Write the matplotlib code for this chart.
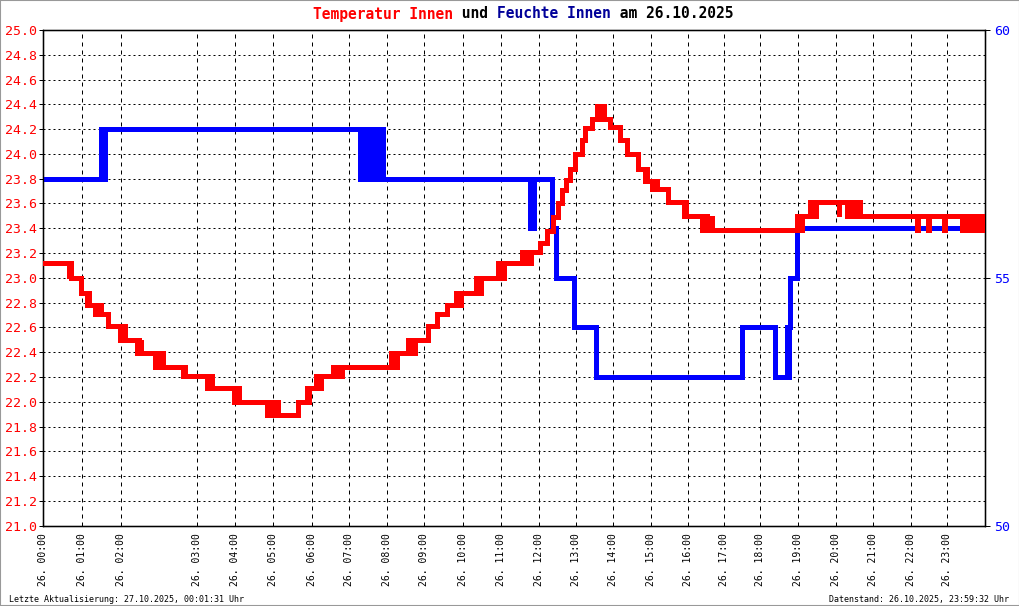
import matplotlib
matplotlib.use("Agg")
import matplotlib.pyplot as plt
import numpy as np
from matplotlib.patches import Rectangle

plt.rcParams['font.family'] = ['DejaVu Sans Mono']

# ---------------- data (hours since 26.10.2025 00:00, as plotted) ----------------
temp_hours = [
    0.0, 0.664, 0.690, 0.717, 0.996, 1.147, 1.174, 1.200, 1.367, 1.394,
    1.434, 1.474, 1.514, 1.713, 2.031, 2.058, 2.084, 2.124, 2.164, 2.483,
    2.509, 2.549, 2.576, 2.602, 2.961, 2.987, 3.014, 3.054, 3.093, 3.133,
    3.160, 3.704, 3.731, 3.757, 4.334, 4.360, 4.395, 4.421, 4.461, 5.058,
    5.085, 5.125, 5.151, 5.191, 5.927, 5.961, 5.988, 6.014, 6.086, 6.121,
    6.160, 6.200, 6.240, 6.766, 6.989, 7.015, 7.050, 7.236, 7.276, 7.302,
    7.342, 7.369, 7.687, 7.714, 7.740, 7.820, 7.847, 7.886, 7.926, 9.227,
    9.254, 9.294, 9.334, 9.374, 9.679, 9.719, 9.758, 9.785, 9.865, 10.210,
    10.457, 10.707, 10.953, 10.980, 11.020, 11.060, 11.086, 11.485, 11.511, 11.551,
    11.577, 11.604, 12.077, 12.108, 12.148, 12.188, 12.228, 12.698, 12.732, 12.772,
    12.812, 12.852, 12.892, 12.932, 13.182, 13.377, 13.529, 13.669, 13.760, 13.874,
    13.981, 14.113, 14.291, 14.379, 14.557, 14.690, 14.724, 14.764, 14.804, 14.844,
    14.870, 15.043, 15.308, 15.502, 15.794, 15.972, 15.999, 16.025, 16.158, 16.184,
    16.224, 16.251, 16.282, 16.590, 17.007, 17.034, 17.060, 17.477, 17.504, 17.538,
    17.565, 17.626, 17.745, 17.757, 20.001, 20.027, 20.062, 20.088, 20.128, 20.353,
    20.393, 20.433, 20.473, 20.513, 21.120, 21.132, 21.340, 21.360, 21.476, 21.502,
    21.548, 21.587, 21.627, 21.654, 21.694, 23.200, 23.212, 23.490, 23.502, 23.920,
    23.932, 24.381, 24.416, 24.443, 24.496, 24.522, 24.575, 24.602, 24.655, 24.695,
    24.735, 24.775, 24.814, 24.854, 24.894, 24.934, 24.974, 25.0,
]
temp_values = [
    23.12, 23.0, 23.12, 23.0, 22.88, 22.78, 22.88, 22.78, 22.71, 22.78,
    22.71, 22.78, 22.71, 22.61, 22.5, 22.61, 22.5, 22.61, 22.5, 22.39,
    22.5, 22.39, 22.5, 22.39, 22.28, 22.39, 22.28, 22.39, 22.28, 22.39,
    22.28, 22.21, 22.28, 22.21, 22.11, 22.21, 22.11, 22.21, 22.11, 22.0,
    22.11, 22.0, 22.11, 22.0, 21.89, 22.0, 21.89, 22.0, 21.89, 22.0,
    21.89, 22.0, 21.89, 22.0, 22.11, 22.0, 22.11, 22.21, 22.11, 22.21,
    22.11, 22.21, 22.28, 22.21, 22.28, 22.21, 22.28, 22.21, 22.28, 22.39,
    22.28, 22.39, 22.28, 22.39, 22.5, 22.39, 22.5, 22.39, 22.5, 22.61,
    22.71, 22.78, 22.88, 22.78, 22.88, 22.78, 22.88, 23.0, 22.88, 23.0,
    22.88, 23.0, 23.12, 23.0, 23.12, 23.0, 23.12, 23.21, 23.12, 23.21,
    23.12, 23.21, 23.12, 23.21, 23.28, 23.38, 23.49, 23.6, 23.71, 23.79,
    23.88, 24.0, 24.11, 24.21, 24.28, 24.39, 24.28, 24.39, 24.28, 24.39,
    24.28, 24.22, 24.11, 24.0, 23.88, 23.78, 23.88, 23.78, 23.72, 23.78,
    23.72, 23.78, 23.72, 23.61, 23.5, 23.61, 23.5, 23.39, 23.5, 23.39,
    23.5, 23.39, 23.5, 23.39, 23.5, 23.39, 23.5, 23.39, 23.5, 23.61,
    23.5, 23.61, 23.5, 23.61, 23.5, 23.61, 23.5, 23.61, 23.5, 23.61,
    23.5, 23.61, 23.5, 23.61, 23.5, 23.39, 23.5, 23.39, 23.5, 23.39,
    23.5, 23.39, 23.5, 23.39, 23.5, 23.39, 23.5, 23.39, 23.5, 23.39,
    23.5, 23.39, 23.5, 23.39, 23.5, 23.39, 23.5, 23.39,
]

hum_hours = [
    0.0, 1.527, 1.553, 1.580, 1.606, 1.633,
    8.404, 8.431, 8.457, 8.492, 8.537, 8.577, 8.617, 8.657, 8.697, 8.736,
    8.776, 8.816, 8.856, 8.896, 8.936, 8.976, 9.015,
    12.905, 12.945, 12.985, 13.024, 13.494, 13.609, 14.095, 14.671,
    18.540, 19.424, 19.734, 19.761, 19.787, 19.822, 20.0, 25.0,
]
hum_values = [
    57, 58, 57, 58, 57, 58,
    57, 58, 57, 58, 57, 58, 57, 58, 57, 58,
    57, 58, 57, 58, 57, 58, 57,
    56, 57, 56, 57, 56, 55, 54, 53,
    54, 53, 54, 53, 54, 55, 56, 56,
]

tick_hours = [0.0, 1.014, 2.050, 4.068, 5.085, 6.086, 7.122, 8.120, 9.113, 10.111,
              11.131, 12.148, 13.157, 14.132, 15.130, 16.123, 17.106, 18.062, 19.033,
              20.042, 21.035, 22.034, 23.027, 24.0]
tick_labels = ["26. %02d:00" % h for h in range(24)]

temp_ticks = [round(21.0 + 0.2 * i, 1) for i in range(21)]
hum_ticks = [50, 55, 60]

assert len(temp_hours) == len(temp_values)
assert len(hum_hours) == len(hum_values)

# ---------------- figure ----------------
W, H = 1020, 606
fig = plt.figure(figsize=(W / 100, H / 100), dpi=100)
x0, x1, ytop, ybot = 43.5, 985.0, 30.0, 525.7
ax = fig.add_axes([x0 / W, 1 - ybot / H, (x1 - x0) / W, (ybot - ytop) / H])
ax2 = ax.twinx()
ax.set_zorder(2)
ax.patch.set_visible(False)
ax2.set_zorder(1)

ax.set_xlim(0, 25)
ax.set_ylim(21.0, 25.0)
ax2.set_ylim(50, 60)

px = 0.72  # one pixel in points
ax.set_axisbelow(True)
ax.grid(True, axis='y', color='black', linewidth=px, linestyle=(0, (2, 3)))
ax.grid(True, axis='x', color='black', linewidth=px, linestyle=(0, (4, 4)))

lw = 2.2
# humidity drawn in ax with humidity transform so it lies under the red line
ax.plot(hum_hours, hum_values, drawstyle='steps-post', color='#0000ff',
        lw=lw, antialiased=False, transform=ax2.transData, zorder=2,
        solid_joinstyle='miter')
ax.plot(temp_hours, temp_values, drawstyle='steps-post', color='#ff0000',
        lw=lw, antialiased=False, zorder=3, solid_joinstyle='miter')

for a in (ax, ax2):
    for s in a.spines.values():
        s.set_color('black')
        s.set_linewidth(px * 1.3)

ax.set_yticks(temp_ticks)
ax.set_yticklabels(["%.1f" % v for v in temp_ticks])
ax.tick_params(axis='y', direction='out', length=4 * px, width=px,
               colors='black', labelcolor='#ff0000', labelsize=9.5, pad=2)
ax.set_xticks(tick_hours)
ax.set_xticklabels(tick_labels, rotation=90)
ax.tick_params(axis='x', length=0, pad=5, labelsize=7, labelcolor='black')

ax2.set_yticks(hum_ticks)
ax2.set_yticklabels([str(v) for v in hum_ticks])
ax2.tick_params(axis='y', direction='out', length=5 * px, width=px,
                colors='black', labelcolor='#0000ff', labelsize=9.5, pad=3)

# ---------------- title (coloured pieces, monospace) ----------------
title_parts = [("Temperatur Innen", '#ff0000'), (" und ", 'black'),
               ("Feuchte Innen", '#000099'), (" am 26.10.2025", 'black')]
tsize = 10.5
char_w = tsize / 72 * 100 * 0.602
xpos = 313.0
for txt, col in title_parts:
    fig.text(xpos / W, 1 - 18.5 / H, txt, color=col, fontsize=tsize,
             fontweight='bold', ha='left', va='baseline')
    xpos += len(txt) * char_w

fig.text(9 / W, 1 - 602 / H, "Letzte Aktualisierung: 27.10.2025, 00:01:31 Uhr",
         fontsize=6, ha='left', va='baseline', color='black')
fig.text(1009 / W, 1 - 602 / H, "Datenstand: 26.10.2025, 23:59:32 Uhr",
         fontsize=6, ha='right', va='baseline', color='black')

fig.add_artist(Rectangle((0, 0), 1, 1, transform=fig.transFigure, fill=False,
                         edgecolor='#999999', linewidth=1.5))

fig.savefig("out.png", dpi=100)
